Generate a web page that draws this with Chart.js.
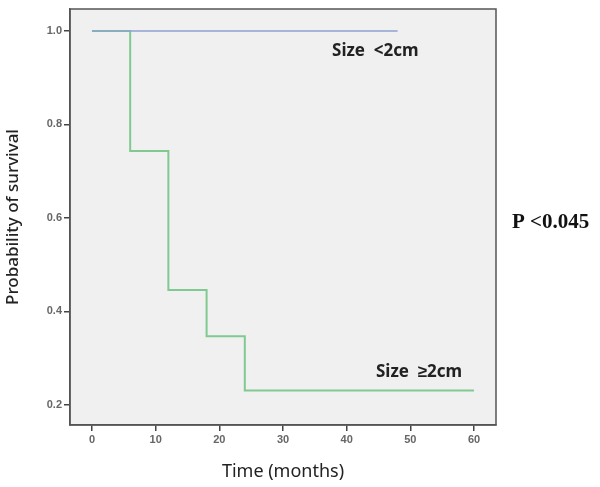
<!DOCTYPE html>
<html>
<head>
<meta charset="utf-8">
<script src="https://cdn.jsdelivr.net/npm/chart.js@4/dist/chart.umd.min.js"></script>
<style>
html,body{margin:0;padding:0;background:#fff;}
#wrap{width:600px;height:487px;position:relative;}
</style>
</head>
<body>
<div id="wrap"><canvas id="c" width="600" height="487"></canvas></div>
<script>
// Kaplan-Meier step points (time in months, survival probability)
const smallTimes = [0, 48];
const smallSurv = [1.0, 1.0];
const largeTimes = [0, 6, 12, 18, 24, 60];
const largeSurv = [1.0, 0.743, 0.446, 0.347, 0.231, 0.231];
const xTicks = [0, 10, 20, 30, 40, 50, 60];
const yTicks = [0.2, 0.4, 0.6, 0.8, 1.0];
const seriesLabels = ['Size  <2cm', 'Size  \u22652cm'];
const pText = 'P <0.045';

const toPts = (xs, ys) => xs.map((x, i) => ({x: x, y: ys[i]}));

const framePlugin = {
  id: 'frame',
  beforeDraw(chart) {
    const {ctx, chartArea: a} = chart;
    ctx.save();
    ctx.fillStyle = '#f0f0f0';
    ctx.fillRect(a.left, a.top, a.right - a.left, a.bottom - a.top);
    ctx.restore();
  },
  afterDatasetsDraw(chart) {
    const {ctx, chartArea: a, scales} = chart;
    ctx.save();
    ctx.strokeStyle = '#555';
    ctx.lineWidth = 1.5;
    ctx.strokeRect(a.left, a.top, a.right - a.left, a.bottom - a.top);
    ctx.fillStyle = '#222';
    ctx.font = 'bold 17px "Noto Sans", sans-serif';
    ctx.textBaseline = 'middle';
    ctx.textAlign = 'left';
    ctx.fillText(seriesLabels[0], scales.x.getPixelForValue(37.7), scales.y.getPixelForValue(0.957));
    ctx.fillText(seriesLabels[1], scales.x.getPixelForValue(44.6), scales.y.getPixelForValue(0.27));
    ctx.font = 'bold 21px "Liberation Serif", serif';
    ctx.fillStyle = '#111';
    ctx.fillText(pText, 512, 223);
    ctx.restore();
  }
};

new Chart(document.getElementById('c'), {
  type: 'scatter',
  data: {
    datasets: [
      {data: toPts(smallTimes, smallSurv), showLine: true, stepped: 'before', borderColor: '#8ea2d2', borderWidth: 1.5, pointRadius: 0, fill: false},
      {data: toPts(largeTimes, largeSurv), showLine: true, stepped: 'before', borderColor: '#80c990', borderWidth: 2, pointRadius: 0, fill: false}
    ]
  },
  options: {
    responsive: false,
    animation: false,
    layout: {padding: {left: 0, right: 104, top: 9, bottom: 0}},
    plugins: {legend: {display: false}, tooltip: {enabled: false}},
    scales: {
      x: {
        type: 'linear', min: -3.45, max: 63.45,
        afterBuildTicks: s => { s.ticks = xTicks.map(v => ({value: v})); },
        afterFit: s => { s.height = 62; },
        grid: {drawOnChartArea: false, drawTicks: true, tickLength: 6, color: '#444', lineWidth: 1.5},
        border: {display: true, color: '#555', width: 1.5},
        ticks: {color: '#666', padding: 2, font: {family: '"Liberation Sans", Arial, sans-serif', size: 11, weight: 'bold'}, callback: v => String(v)},
        title: {display: true, text: 'Time (months)', color: '#222', font: {family: '"Noto Sans", sans-serif', size: 18}, padding: {top: 6, bottom: 4}}
      },
      y: {
        type: 'linear', min: 0.157, max: 1.047,
        afterBuildTicks: s => { s.ticks = yTicks.map(v => ({value: v})); },
        afterFit: s => { s.width = 70; },
        grid: {drawOnChartArea: false, drawTicks: true, tickLength: 6, color: '#444', lineWidth: 1.5},
        border: {display: true, color: '#555', width: 1.5},
        ticks: {color: '#666', padding: 2, font: {family: '"Liberation Sans", Arial, sans-serif', size: 11, weight: 'bold'}, callback: v => Number(v).toFixed(1)},
        title: {display: true, text: 'Probability of survival', color: '#222', font: {family: '"Noto Sans", sans-serif', size: 17, weight: '500'}, padding: {top: 3, bottom: 4}}
      }
    }
  },
  plugins: [framePlugin]
});
</script>
</body>
</html>
